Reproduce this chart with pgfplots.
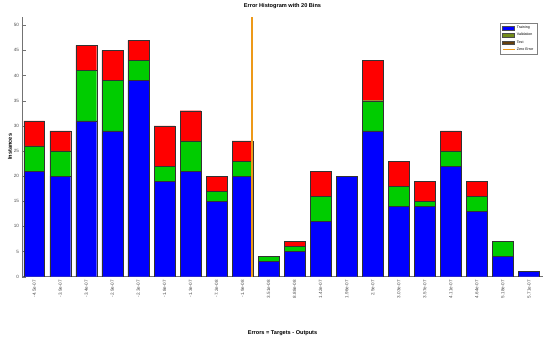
\documentclass[border=0pt]{standalone}
\usepackage{pgfplots}
\pgfplotsset{compat=1.18}
\usepackage{pgfplotstable}
\usepackage{fontspec}
\setmainfont{Liberation Sans}
\definecolor{trainc}{rgb}{0,0,1}
\definecolor{valc}{rgb}{0,0.8,0}
\definecolor{testc}{rgb}{1,0,0}
\definecolor{zeroerr}{rgb}{0.93,0.6,0.1}
\definecolor{legval}{rgb}{0.45,0.55,0.1}
\definecolor{legtest}{rgb}{0.4,0.25,0.05}
\pgfplotstableread{
idx train val test
1 21 5 5
2 20 5 4
3 31 10 5
4 29 10 6
5 39 4 4
6 19 3 8
7 21 6 6
8 15 2 3
9 20 3 4
10 3 1 0
11 5 1 1
12 11 5 5
13 20 0 0
14 29 6 8
15 14 4 5
16 14 1 4
17 22 3 4
18 13 3 3
19 4 3 0
20 1 0 0
}\errdata
\pgfplotstableread{
x y
9.36 0
9.36 51.7
}\zeroline
\begin{document}
\begin{tikzpicture}
\path[use as bounding box] (-22pt,-65.3pt) rectangle (528pt,276.7pt);
\begin{axis}[
  scale only axis,
  width=521pt, height=260pt,
  at={(0,0)}, anchor=south west,
  ybar stacked,
  bar width=0.8,
  xmin=0.53, xmax=20.54,
  ymin=0, ymax=51.7,
  axis x line=bottom, axis y line=left,
  axis line style={draw=black!55, -},
  xtick=data,
  xticklabels={{-4.5e-07},{-3.9e-07},{-3.4e-07},{-2.9e-07},{-2.3e-07},{-1.8e-07},{-1.3e-07},{-7.2e-08},{-1.9e-08},{3.51e-08},{8.88e-08},{1.42e-07},{1.96e-07},{2.5e-07},{3.03e-07},{3.57e-07},{4.11e-07},{4.64e-07},{5.18e-07},{5.71e-07}},
  xtick style={draw=none},
  ytick={0,5,...,50},
  ytick style={draw=black!55},
  tick align=inside,
  major tick length=4.5pt,
  /pgf/number format/assume math mode=true,
  tick label style={font=\fontsize{4.6}{5}\selectfont, text=black!70},
  xticklabel style={rotate=90, anchor=east},
  yticklabel style={xshift=0.5pt},
  title={Error Histogram with 20 Bins},
  title style={font=\fontsize{5.6}{6}\selectfont\bfseries, at={(axis description cs:0.5,1)}, anchor=center, yshift=4.7pt},
  xlabel={Errors = Targets - Outputs},
  xlabel style={font=\fontsize{5.6}{6}\selectfont\bfseries, at={(axis description cs:0.5,0)}, anchor=center, yshift=-56.3pt},
  ylabel={Instances},
  ylabel style={font=\fontsize{5.6}{6}\selectfont\bfseries, at={(axis description cs:-0.023,0.5)}, anchor=center},
  legend style={at={(axis description cs:0.9885,0.9758)}, anchor=north east,
    font=\fontsize{3.6}{4}\selectfont, draw=black!50, inner xsep=1.5pt, inner ysep=0.8pt,
    row sep=-0.8pt, cells={anchor=west}},
]
\addplot+[fill=trainc, draw=black!80, line width=0.35pt, forget plot] table[x=idx, y=train] {\errdata};
\addplot+[fill=valc, draw=black!80, line width=0.35pt, forget plot] table[x=idx, y=val] {\errdata};
\addplot+[fill=testc, draw=black!80, line width=0.35pt, forget plot] table[x=idx, y=test] {\errdata};
\addlegendimage{legend image code/.code={\draw[fill=trainc, draw=black!70, line width=0.3pt] (0pt,-1.8pt) rectangle (12pt,1.8pt);}}
\addlegendentry{Training}
\addlegendimage{legend image code/.code={\draw[fill=legval, draw=black!70, line width=0.3pt] (0pt,-1.8pt) rectangle (12pt,1.8pt);}}
\addlegendentry{Validation}
\addlegendimage{legend image code/.code={\draw[fill=legtest, draw=black!70, line width=0.3pt] (0pt,-1.8pt) rectangle (12pt,1.8pt);}}
\addlegendentry{Test}
\addlegendimage{legend image code/.code={\draw[zeroerr, line width=0.8pt] (0pt,0pt) -- (12pt,0pt);}}
\addlegendentry{Zero Error}
\end{axis}
\begin{axis}[
  scale only axis,
  width=521pt, height=260pt,
  at={(0,0)}, anchor=south west,
  xmin=0.53, xmax=20.54,
  ymin=0, ymax=51.7,
  hide axis,
]
\addplot[draw=zeroerr, line width=1.5pt, mark=none] table[x=x, y=y] {\zeroline};
\end{axis}
\end{tikzpicture}
\end{document}
